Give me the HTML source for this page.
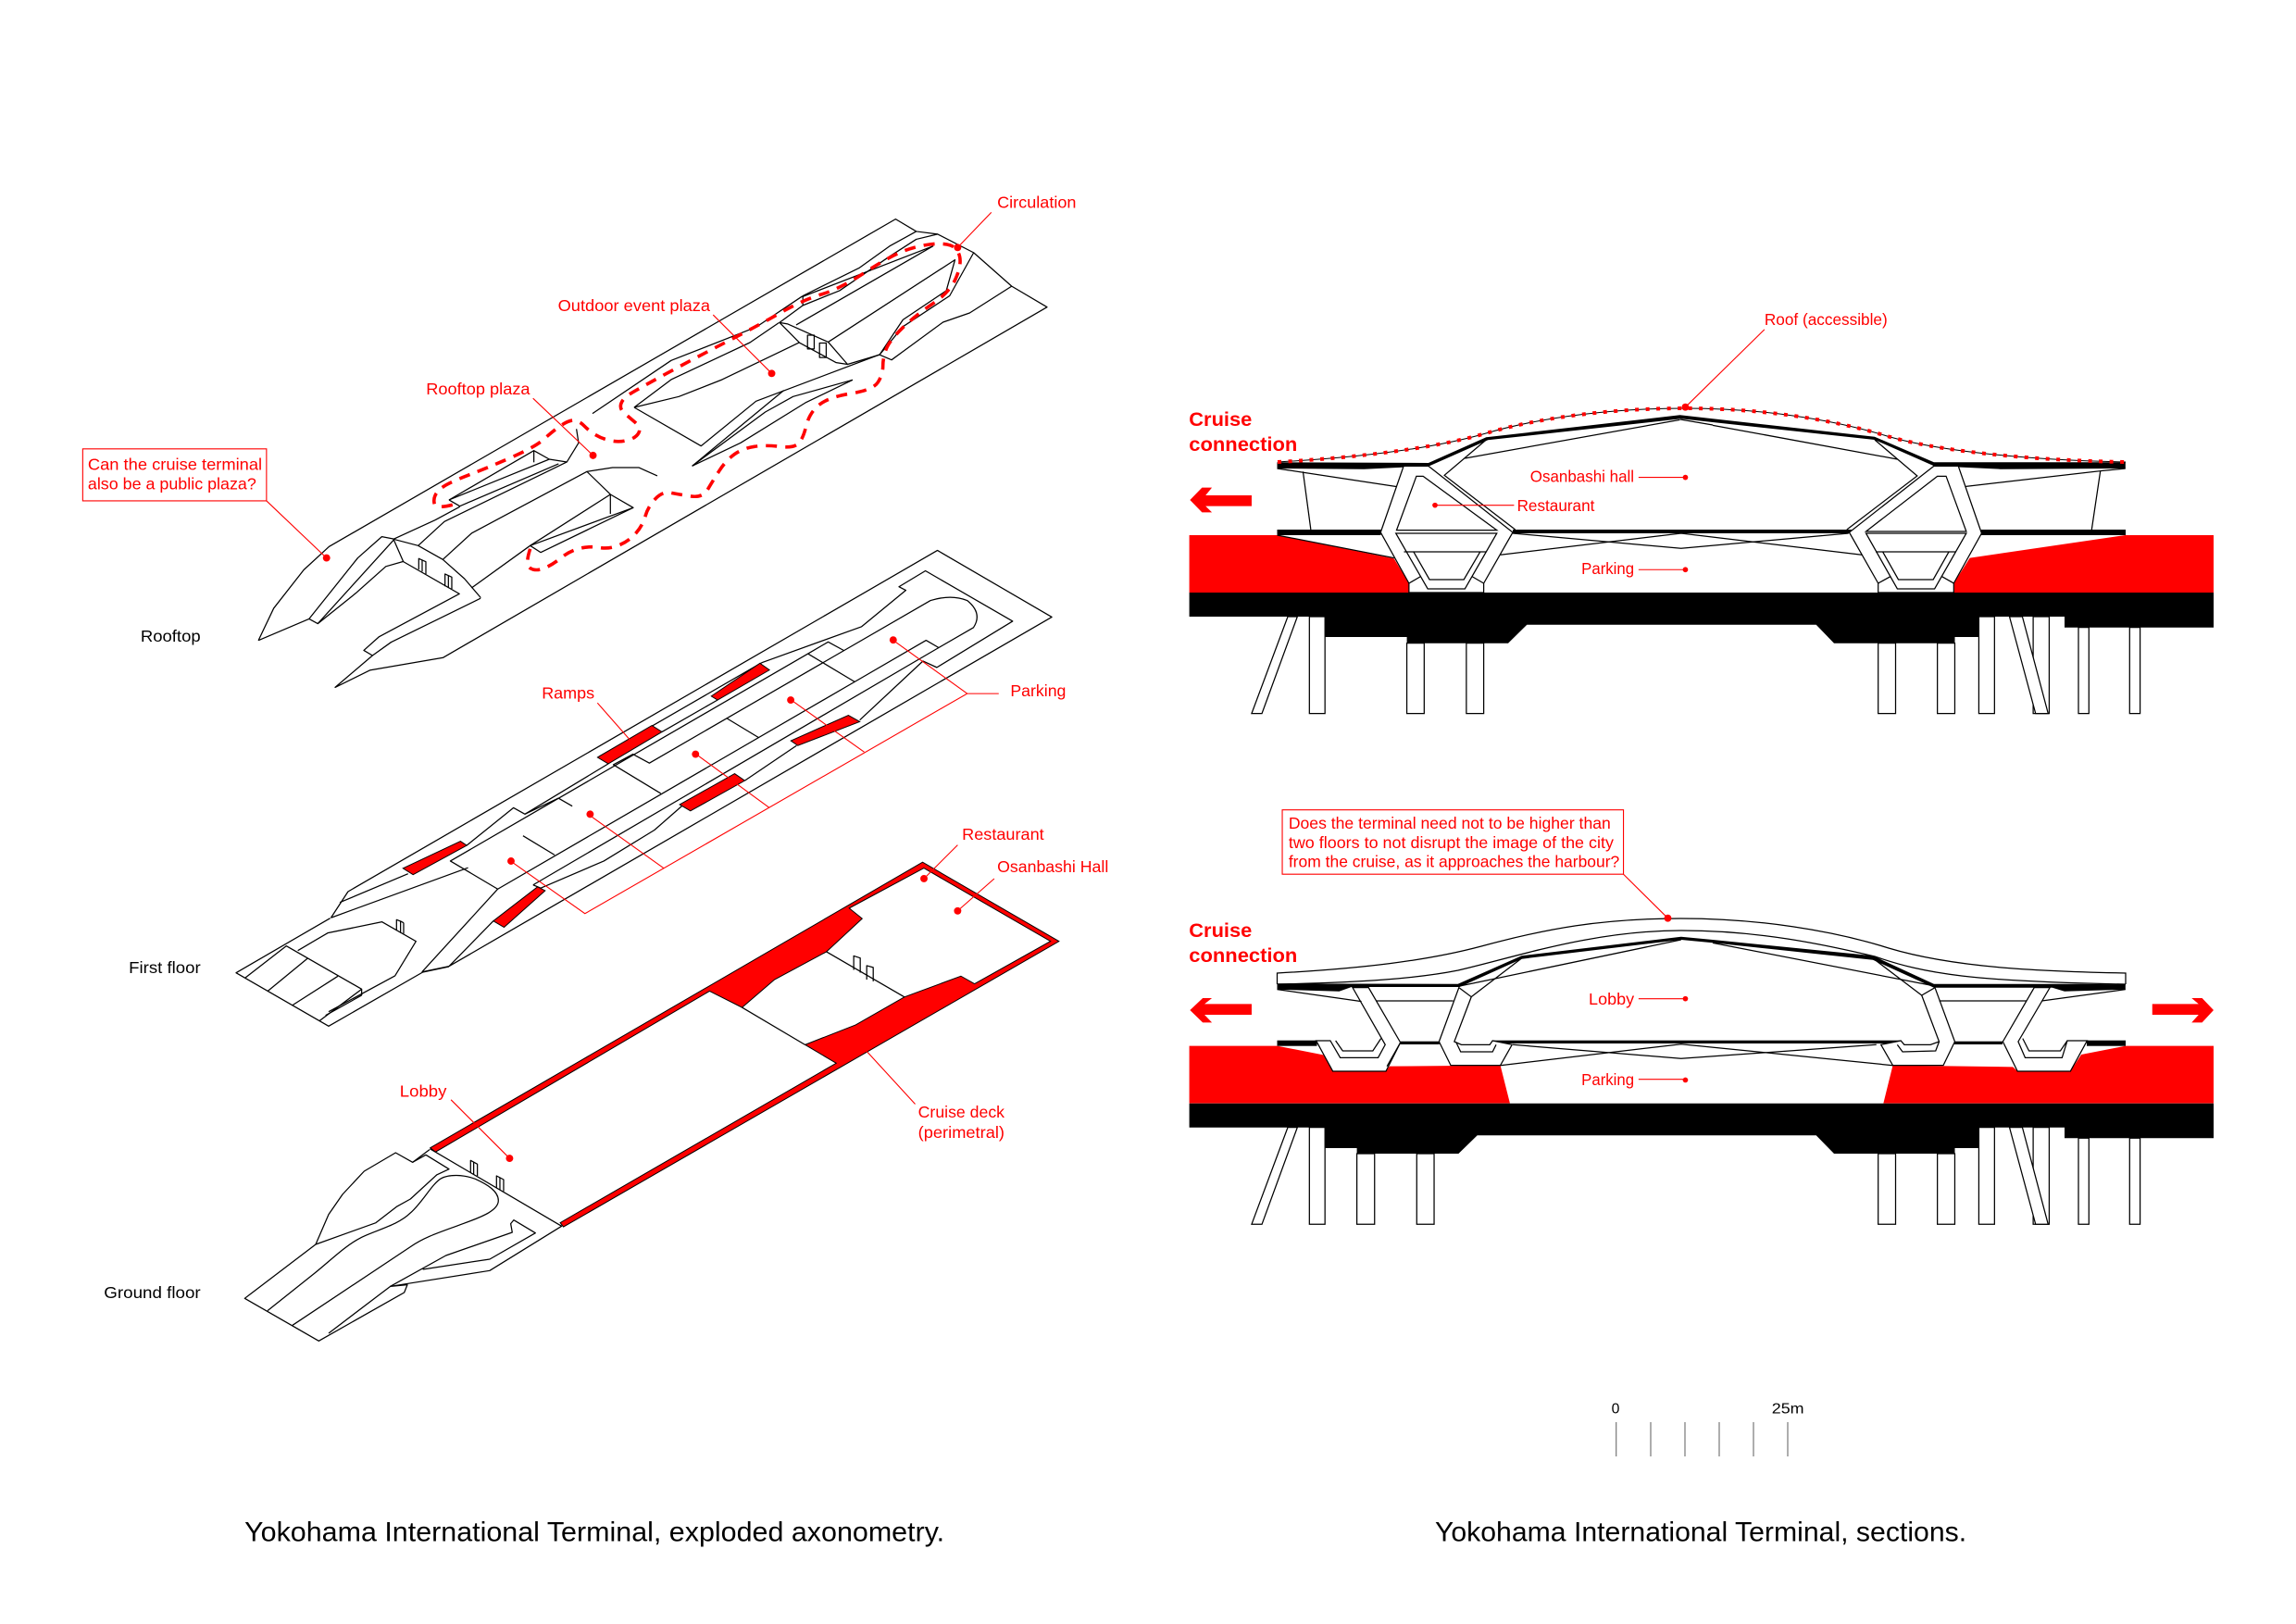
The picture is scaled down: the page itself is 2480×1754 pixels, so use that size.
<!DOCTYPE html>
<html><head><meta charset="utf-8"><title>Yokohama International Terminal</title>
<style>
html,body{margin:0;padding:0;background:#fff}
svg{display:block}
svg *{vector-effect:non-scaling-stroke}
.l path,.l polyline,.l polygon,.l rect{fill:none;stroke:#000;stroke-width:1.25;stroke-linejoin:round}
.s path,.s polygon,.s rect{fill:#fff;stroke:#000;stroke-width:1.25;stroke-linejoin:miter}
.s polyline{fill:none;stroke:#000;stroke-width:1.25}
.rf polygon,.rf path{fill:#f00;stroke:#000;stroke-width:1}
.r polygon{fill:#f00;stroke:none}
.k polygon,.k rect{fill:#000;stroke:none}
.ld path,.ld polyline{fill:none;stroke:#f00;stroke-width:1.1}
.d circle{fill:#f00}
text{font-family:"Liberation Sans",sans-serif;font-size:11.2px;fill:#f00}
text.b{fill:#000}
text.c{fill:#000;font-size:19px}
text.h{font-weight:bold;font-size:13.6px}
</style></head><body>
<svg xmlns="http://www.w3.org/2000/svg" width="2480" height="1754" viewBox="0 0 2480 1754">
<rect width="2480" height="1754" fill="#fff"/>

<!-- ROOFTOP -->
<g class="l" transform="translate(60,190) scale(.7207,.37)">
<polyline points="304,1356 327,1262 372,1150 410,1082 1259,126 1290,162 1322,170 1376,224 1433,322 1486,383 581,1406 471,1443 419,1493 475,1400 503,1361 637,1233"/>
<polyline points="304,1356 380,1293 393,1307 508,1060 489,1053 453,1115 380,1293"/>
<polyline points="393,1307 450,1218 495,1140 522,1125"/>
<polyline points="605,1220 485,1345 462,1385 475,1400"/>
<polyline points="1120,350 1205,268 1250,205 1290,162"/>
<polyline points="1120,350 1120,378"/>
<polyline points="1085,428 1120,378 1175,335 1250,235 1290,185 1322,170"/>
<polyline points="1085,428 1115,487 1170,545 1187,550 1158,485 1097,432 1085,428"/>
<polyline points="1120,352 1315,205 1110,435"/>
<polyline points="1158,485 1348,245 1335,335 1270,420 1235,522 1187,550"/>
<polyline points="1376,224 1340,350 1270,440 1235,522 1253,537 1330,427 1370,400 1433,322"/>
<rect x="1127" y="465" width="10" height="40"/><rect x="1145" y="488" width="10" height="42"/>
</g>
<g class="l" transform="translate(380,340) scale(.3333)">
<polyline points="135,727 270,665 350,622"/>
<polyline points="215,748 300,670 697,477 735,415 728,370"/>
<polyline points="315,600 590,440 640,468 697,477"/>
<polyline points="315,600 350,620 670,483"/>
<polyline points="315,600 640,468"/>
<polyline points="590,440 590,478"/>
<polyline points="295,793 388,708 762,508 838,582 912,625 612,770 578,748 838,582"/>
<polyline points="578,748 912,625"/>
<polyline points="838,582 838,645"/>
<polyline points="578,748 388,885"/>
<polyline points="762,508 845,495 930,495 990,522"/>
<polyline points="915,300 1060,265 1200,210 1450,90"/>
<polyline points="915,300 1035,210 1290,90 1385,25"/>
<polyline points="915,300 1132,425 1310,280 1710,129"/>
<polyline points="780,320 1035,148 1310,40 1461,-61"/>
<polyline points="1103,490 1400,245"/>
<polyline points="1103,490 1340,315 1430,265 1623,211"/>
<polyline points="1103,490 1260,415 1470,285 1623,211"/>
<polyline points="135,727 167,800 350,905"/>
<polyline points="135,727 215,748 295,793 365,855 418,917"/>
<polyline points="217,825 217,790 240,800 240,840"/><polyline points="228,795 228,832"/>
<polyline points="302,880 302,840 324,850 324,888"/><polyline points="313,845 313,885"/>
</g>
<g transform="translate(60,190) scale(.7207,.37)">
<path d="M595,960 Q570,972 568,958.5 Q566,945 569,932.5 Q572,920 581,907.5 Q590,895 620,872.5 Q650,850 685,820 Q720,790 732.5,767.5 Q745,745 757.5,728.5 Q770,712 777.5,713.5 Q785,715 792.5,730 Q800,745 810,756.5 Q820,768 832.5,773 Q845,778 857.5,771.5 Q870,765 874,750 Q878,735 869,720 Q860,705 852.5,692.5 Q845,680 847.5,665 Q850,650 860,637.5 Q870,625 915,577.5 Q960,530 1005,485 Q1050,440 1085,401 Q1120,362 1147.5,346 Q1175,330 1212.5,282.5 Q1250,235 1270,220 Q1290,205 1310,200 Q1330,195 1341,202.5 Q1352,210 1355,235 Q1358,260 1349,300 Q1340,340 1315,372.5 Q1290,405 1270,442.5 Q1250,480 1245,505 Q1240,530 1240,555 Q1240,580 1232.5,602.5 Q1225,625 1192.5,635 Q1160,645 1145,667.5 Q1130,690 1125,730 Q1120,770 1112.5,782.5 Q1105,795 1085,790 Q1065,785 1047.5,790 Q1030,795 1017.5,812.5 Q1005,830 995,860 Q985,890 977.5,915 Q970,940 952.5,935 Q935,930 922.5,925 Q910,920 899,942.5 Q888,965 884,992.5 Q880,1020 870,1042.5 Q860,1065 845,1077.5 Q830,1090 815,1085 Q800,1080 785,1087.5 Q770,1095 757.5,1115 Q745,1135 732.5,1145 Q720,1155 711.5,1145 Q703,1135 712,1085" fill="none" stroke="#f00" stroke-width="3.6" stroke-dasharray="12 9"/>
</g>

<!-- FIRST FLOOR -->
<g class="l" transform="translate(120,590) scale(.6824,.3444)">
<polyline points="348,1165 375,1083 1308,13 1489,222 535,1317 492,1335"/>
<polyline points="362,1117 470,1027"/>
<polyline points="348,1165 565,1008"/>
<polyline points="563,938 637,820 655,840 708,790 730,815"/>
<polyline points="655,840 787,682"/>
<polyline points="1030,365 1188,252 1258,138 1247,127 1289,77 1427,235 1307,380 1285,360 1185,545"/>
<polyline points="1030,365 772,660"/>
<polyline points="960,482 872,582"/>
<polyline points="1103,337 537,987 612,1075 1177,425 1103,337 1135,300 1160,327 852,680 826,652 795,685 870,775"/>
<polyline points="652,908 702,968"/><polyline points="975,540 1025,600"/>
<path d="M1160,327 L1297,170 Q1330,150 1355,170 Q1380,210 1365,255 L1310,318 L1290,295 L1177,425"/>
<polyline points="668,1062 1310,318"/>
<polyline points="668,1062 680,1072 780,987 860,890 905,812"/>
<polyline points="1003,735 1085,625"/>
<polyline points="612,1075 492,1335"/>
<polyline points="605,1175 535,1317"/>
</g>
<g class="l" transform="translate(240,900) scale(.3333)">
<polyline points="350,275 45,452 345,625 650,450 735,432"/>
<polyline points="75,468 208,365 452,505 452,525"/>
<polyline points="147,512 277,405"/><polyline points="228,557 375,463"/><polyline points="315,608 452,505"/>
<polyline points="335,590 452,525"/>
<polyline points="345,578 560,462 628,350 518,287 342,323 245,380"/>
<polyline points="565,315 565,280 578,285 578,323"/><polyline points="588,290 588,325"/><polyline points="578,285 588,290"/>
</g>
<g class="rf" transform="translate(120,590) scale(.6824,.3444)">
<polygon points="950,470 1027,367 1042,388 960,482"/>
<polygon points="770,662 856,562 872,582 787,682"/>
<polygon points="1076,610 1167,530 1185,550 1087,625"/>
<polygon points="900,810 987,713 1003,735 917,830"/>
<polygon points="462,1010 553,925 563,938 478,1030"/>
<polygon points="605,1175 675,1068 687,1080 622,1195"/>
</g>

<!-- GROUND FLOOR -->
<g class="rf" transform="translate(100,900) scale(.7015,.3762)">
<polygon points="520,903 1278,83 1488,310 725,1130 720,1118 1145,660 1097,607 1175,550 1250,470 1337,410 1358,432 1475,310 1280,100 1165,215 1185,245 1130,340 1050,420 1000,500 950,453 528,915"/>
</g>
<g class="l" transform="translate(100,900) scale(.7015,.3762)">
<polyline points="1000,500 1097,607"/>
<polyline points="1130,340 1250,470"/>
<polyline points="1172,392 1172,352 1182,358 1182,400"/>
<polyline points="1192,420 1192,380 1202,385 1202,425"/>
</g>
<g class="l" transform="translate(240,1220) scale(.3333)">
<polyline points="673,62 1100,313 867,457 545,508 600,503 590,528 313,685 73,547 303,372 345,275 390,210 460,135 562,75 617,106 672,65"/>
<polyline points="617,106 660,82 735,128 695,147 610,225 565,250 498,302 303,372"/>
<path d="M147,587 L300,465 C350,425 400,375 450,350 C500,325 570,310 610,270 C650,235 680,175 710,158 C735,145 780,145 820,160 C860,178 895,200 895,230 C895,260 850,280 780,305 C720,328 660,345 610,380 L228,634"/>
<polyline points="345,660 545,508 725,408 940,333 935,305 945,293 1015,335 867,420 650,453"/>
<polyline points="805,138 805,100 827,112 827,150"/><polyline points="815,105 815,145"/>
<polyline points="889,188 889,150 912,162 912,200"/><polyline points="900,155 900,195"/>
</g>

<!-- SECTION 1 -->
<g class="r" transform="translate(1280,420) scale(.3827,.3333)"><polygon points="12,474 260,474 590,550 632,630 632,660 12,660"/></g>
<g class="r" transform="translate(1850,420) scale(.3762,.3333)"><polygon points="738,548 1185,474 1438,474 1438,660 692,660 692,630"/></g>
<g class="k">
<polygon points="1284.6,640 2391,640 2391,677.7 2230,677.7 2230,666 2137.4,666 2137.4,688 2111.5,688 2111.5,694.7 1981,694.7 1961.7,674.7 1649.3,674.7 1629,694.7 1519.6,694.7 1519.6,688 1431,688 1431,666 1284.6,666"/>
<polygon points="1379.5,499.3 1542.9,500 1605.3,472.3 1814.6,448.3 1850,452.3 2024.9,471.7 2088.9,499.3 2295.8,499.3 2295.8,506 2160.4,506.7 2088.9,503.3 2024.9,475 1850,456 1815.8,452.3 1607.2,475.3 1544,503.3 1473.3,506.7 1379.5,506"/>
<rect x="1379.5" y="572" width="112" height="6"/>
<rect x="1634" y="572" width="366" height="4"/>
<rect x="2140" y="572" width="156" height="6"/>
</g>
<g fill="none" stroke="#000" stroke-width="1.25">
<path d="M1815 453 L1850 459"/>
<path d="M1620.6,599.3 L1815.8,576 L2011,599.3"/>
<path d="M1634,576 L1815.8,592.3 L1996.7,576"/>
</g>
<g class="s" transform="translate(1280,420) scale(.3827,.3333)">
<polygon points="617,250 687,250 925,465 843,630 843,660 632,660 632,630 552,465"/>
<polygon points="653,283 672,283 880,458 597,458"/>
<polygon points="595,468 880,468 790,648 685,648"/>
<polyline points="618,528 850,528"/>
<polyline points="645,528 690,618 787,618 833,528"/>
<polyline points="632,630 665,608"/><polyline points="843,630 810,608"/>
<polyline points="932,456 732,280 850,165"/>
<polyline points="790,225 1397,100"/>
<polyline points="260,258 598,317"/>
<polyline points="333,268 355,456"/>
<polyline points="260,474 590,548"/>
<polygon points="188,1052 290,738 317,738 217,1052"/>
<rect x="351" y="738" width="44" height="314"/>
<rect x="626" y="824" width="49" height="228"/>
<rect x="794" y="824" width="49" height="228"/>
</g>
<g class="s" transform="translate(1850,420) scale(.3762,.3333)">
<polygon points="635,250 705,250 772,468 692,630 692,660 475,660 475,630 392,465"/>
<polygon points="645,283 670,283 728,462 440,462"/>
<polygon points="440,468 728,468 637,648 530,648"/>
<polyline points="468,528 698,528"/>
<polyline points="488,528 533,618 633,618 678,528"/>
<polyline points="475,630 510,608"/><polyline points="692,630 658,608"/>
<polyline points="385,456 587,282 465,165"/>
<polyline points="530,228 0,118"/>
<polyline points="727,316 1113,266 1088,456"/>
<polyline points="1113,266 1185,258"/>
<rect x="475" y="824" width="50" height="228"/>
<rect x="645" y="824" width="50" height="228"/>
<rect x="764" y="738" width="45" height="314"/>
<rect x="920" y="738" width="46" height="314"/>
<polygon points="852,738 927,1052 963,1052 889,738"/>
<rect x="1050" y="773" width="30" height="279"/>
<rect x="1197" y="773" width="30" height="279"/>
</g>
<path d="M1380 499 C1470 494 1550 484 1605 468 C1670 449 1750 441 1820 441 C1900 441 1975 452 2035 470 C2090 487 2190 497 2296 499" fill="none" stroke="#000" stroke-width="1"/>
<path d="M1380 499 C1470 494 1550 484 1605 468 C1670 449 1750 441 1820 441 C1900 441 1975 452 2035 470 C2090 487 2190 497 2296 499" fill="none" stroke="#f00" stroke-width="4" stroke-dasharray="4 7.5"/>
<g class="r" transform="translate(1280,420) scale(.3827,.3333)"><polygon points="14,360 48,320 76,320 58,345 188,345 188,380 58,380 76,400 48,400"/></g>

<!-- SECTION 2 -->
<g class="r" transform="translate(1280,980) scale(.3827,.3333)"><polygon points="12,449 260,449 390,478 417,531 567,531 577,515 890,512 917,635 12,635"/></g>
<g class="r" transform="translate(1850,980) scale(.3762,.3333)">
<polygon points="517,512 862,517 875,531 1027,531 1058,477 1185,449 1438,449 1438,635 490,635"/>
<polygon points="1262,313 1395,313 1375,294 1405,294 1438,333 1405,373 1375,373 1395,348 1262,348"/>
</g>
<g class="r" transform="translate(1280,980) scale(.3827,.3333)"><polygon points="14,333 50,294 76,294 55,313 188,313 188,348 55,348 76,373 50,373"/></g>
<g class="k">
<polygon points="1284.6,1191.7 2391,1191.7 2391,1229.3 2230,1229.3 2230,1217.7 2137.4,1217.7 2137.4,1240 2111.5,1240 2111.5,1246 1981,1246 1961.7,1226.3 1595.7,1226.3 1575.4,1246 1465.6,1246 1465.6,1240 1431,1240 1431,1217.7 1284.6,1217.7"/>
<polygon points="1379.5,1062.3 1574.7,1062.7 1643.6,1032.3 1815.8,1011.7 1850,1015 2023,1032.3 2088.9,1062.7 2245,1062.7 2295.8,1063.3 2295.8,1068.7 2230,1070.7 2216.8,1066.7 2088.9,1066.7 2023,1036.7 1850,1018.3 1815.8,1015 1643.6,1035.7 1576.6,1066 1459.9,1066 1446.5,1070.7 1379.5,1068.7"/>
<rect x="1379.5" y="1123.7" width="43" height="6"/>
<rect x="1512.7" y="1124.7" width="42" height="3.3"/>
<rect x="1612" y="1123.7" width="441" height="3.3"/>
<rect x="2111" y="1124.7" width="52" height="3.3"/>
<rect x="2254" y="1123.7" width="42" height="6"/>
</g>
<path d="M1379.5 1063 V1051 C1470 1046 1540 1038 1600 1022 C1670 1003 1730 992 1815 992 C1900 992 1980 1005 2040 1024 C2110 1045 2200 1049 2296 1051 V1063" fill="none" stroke="#000" stroke-width="1.25"/>
<path d="M1379.5 1063 C1470 1061 1530 1057 1575 1048 C1640 1033 1720 1005 1816 1005 C1900 1005 1970 1020 2025 1033 C2080 1052 2130 1060 2296 1063" fill="none" stroke="#000" stroke-width="1.25"/>
<g fill="none" stroke="#000" stroke-width="1.25">
<path d="M1620.6,1150.7 L1815.8,1127.7 L2044.5,1150.7"/>
<path d="M1634,1128.3 L1815.8,1143.3 L2026.8,1128.3"/>
</g>
<g class="s" transform="translate(1280,980) scale(.3827,.3333)">
<polygon points="473,260 518,260 608,438 567,531 417,531 370,432 410,432 438,487 545,487 565,445"/>
<polyline points="425,432 445,465 530,465 553,425"/>
<polyline points="540,303 757,303"/>
<polyline points="498,305 260,266"/>
<polyline points="608,438 570,515"/>
<polygon points="773,260 808,290 760,435 780,445 860,445 868,432 923,445 890,512 750,512 717,435"/>
<polyline points="765,437 778,468 868,468 878,445"/>
<polyline points="808,290 950,165"/>
<polyline points="775,255 1400,105"/>
<polygon points="188,1027 290,713 317,713 217,1027"/>
<rect x="351" y="713" width="44" height="314"/>
<rect x="485" y="798" width="50" height="229"/>
<rect x="654" y="798" width="49" height="229"/>
</g>
<g class="s" transform="translate(1850,980) scale(.3762,.3333)">
<polygon points="638,260 695,435 662,512 517,512 483,445 540,432 550,445 625,445 650,435 600,285"/>
<polyline points="530,445 545,468 640,465 650,435"/>
<polyline points="600,285 460,165"/>
<polyline points="638,255 0,115"/>
<polygon points="923,260 968,260 877,435 897,487 1003,487 1018,432 1075,432 1027,531 875,531 833,435"/>
<polyline points="890,425 908,465 998,465 1018,432"/>
<polyline points="650,303 900,303"/>
<polyline points="945,303 1185,266"/>
<rect x="475" y="798" width="50" height="229"/>
<rect x="645" y="798" width="50" height="229"/>
<rect x="764" y="713" width="45" height="314"/>
<rect x="920" y="713" width="46" height="314"/>
<polygon points="852,713 927,1027 963,1027 889,713"/>
<rect x="1050" y="748" width="30" height="279"/>
<rect x="1197" y="748" width="30" height="279"/>
</g>

<!-- Parking bracket -->
<g class="ld" transform="translate(120,590) scale(.6824,.3444)">
<polyline points="1405,462 1355,462 750,1152 633,988"/>
<polyline points="1238,295 1355,462"/>
<polyline points="1075,480 1192,645"/>
<polyline points="926,652 1042,820"/>
<polyline points="757,843 875,1010"/>
</g>

<!-- Labels & leaders in 1568-wide coordinates -->
<g transform="scale(1.58163)">
<g class="ld">
<path d="M677,145 L654,169"/><path d="M487,215 L527,255"/><path d="M364,272 L405,311"/>
<path d="M182,342 L223,381"/><path d="M408,480 L430,505"/>
<path d="M654,577 L631,600"/><path d="M679,600 L654,622"/>
<path d="M625,754 L592,718"/><path d="M308,751 L348,791"/>
<path d="M1205,225 L1151,278"/><path d="M1119,326 H1151"/><path d="M980,345 H1034"/><path d="M1119,389 H1151"/>
<path d="M1119,682 H1151"/><path d="M1119,737 H1151"/><path d="M1108.7,597 L1139,627"/>
</g>
<g class="d">
<circle cx="654" cy="169" r="2.5"/><circle cx="527" cy="255" r="2.5"/><circle cx="405" cy="311" r="2.5"/>
<circle cx="223" cy="381" r="2.5"/><circle cx="631" cy="600" r="2.5"/><circle cx="654" cy="622" r="2.5"/>
<circle cx="348" cy="791" r="2.5"/><circle cx="610" cy="437" r="2.5"/><circle cx="540" cy="478" r="2.5"/>
<circle cx="475" cy="515" r="2.5"/><circle cx="403" cy="556" r="2.5"/><circle cx="349" cy="588" r="2.5"/>
<circle cx="1151" cy="278" r="2.5"/><circle cx="1151" cy="326" r="1.8"/><circle cx="980" cy="345" r="1.8"/>
<circle cx="1151" cy="389" r="1.8"/><circle cx="1151" cy="682" r="1.8"/><circle cx="1151" cy="737.5" r="1.8"/>
<circle cx="1139" cy="627" r="2.5"/>
</g>
<rect x="56.5" y="306.5" width="125.5" height="35.5" fill="#fff" stroke="#f00" stroke-width="1.1"/>
<rect x="875.7" y="553" width="233" height="44" fill="#fff" stroke="#f00" stroke-width="1.1"/>
<text x="681" y="142" textLength="54" lengthAdjust="spacingAndGlyphs">Circulation</text>
<text x="381" y="212.5" textLength="104" lengthAdjust="spacingAndGlyphs">Outdoor event plaza</text>
<text x="291" y="269.5" textLength="71" lengthAdjust="spacingAndGlyphs">Rooftop plaza</text>
<text x="60" y="321" textLength="119" lengthAdjust="spacingAndGlyphs">Can the cruise terminal</text>
<text x="60" y="334" textLength="115" lengthAdjust="spacingAndGlyphs">also be a public plaza?</text>
<text class="b" x="96" y="438" textLength="41" lengthAdjust="spacingAndGlyphs">Rooftop</text>
<text class="b" x="88" y="664.5" textLength="49" lengthAdjust="spacingAndGlyphs">First floor</text>
<text class="b" x="71" y="886.5" textLength="66" lengthAdjust="spacingAndGlyphs">Ground floor</text>
<text x="370" y="477" textLength="36" lengthAdjust="spacingAndGlyphs">Ramps</text>
<text x="690" y="475.5" textLength="38" lengthAdjust="spacingAndGlyphs">Parking</text>
<text x="657" y="573.5" textLength="56" lengthAdjust="spacingAndGlyphs">Restaurant</text>
<text x="681" y="595.5" textLength="76" lengthAdjust="spacingAndGlyphs">Osanbashi Hall</text>
<text x="627" y="763" textLength="59" lengthAdjust="spacingAndGlyphs">Cruise deck</text>
<text x="627" y="777" textLength="59" lengthAdjust="spacingAndGlyphs">(perimetral)</text>
<text x="273" y="749" textLength="32" lengthAdjust="spacingAndGlyphs">Lobby</text>
<text x="1205" y="222" textLength="84" lengthAdjust="spacingAndGlyphs">Roof (accessible)</text>
<text class="h" x="812" y="290.7" textLength="43" lengthAdjust="spacingAndGlyphs">Cruise</text>
<text class="h" x="812" y="308" textLength="74" lengthAdjust="spacingAndGlyphs">connection</text>
<text x="1045" y="329" textLength="71" lengthAdjust="spacingAndGlyphs">Osanbashi hall</text>
<text x="1036" y="349" textLength="53" lengthAdjust="spacingAndGlyphs">Restaurant</text>
<text x="1080" y="392" textLength="36" lengthAdjust="spacingAndGlyphs">Parking</text>
<text x="880" y="566" textLength="220" lengthAdjust="spacingAndGlyphs">Does the terminal need not to be higher than</text>
<text x="880" y="579" textLength="222" lengthAdjust="spacingAndGlyphs">two floors to not disrupt the image of the city</text>
<text x="880" y="592" textLength="226" lengthAdjust="spacingAndGlyphs">from the cruise, as it approaches the harbour?</text>
<text class="h" x="812" y="640" textLength="43" lengthAdjust="spacingAndGlyphs">Cruise</text>
<text class="h" x="812" y="657" textLength="74" lengthAdjust="spacingAndGlyphs">connection</text>
<text x="1085" y="686" textLength="31" lengthAdjust="spacingAndGlyphs">Lobby</text>
<text x="1080" y="741" textLength="36" lengthAdjust="spacingAndGlyphs">Parking</text>
<text class="b" x="1100.5" y="965" style="font-size:10px">0</text>
<text class="b" x="1210" y="965" style="font-size:10px" textLength="22" lengthAdjust="spacingAndGlyphs">25m</text>
<text class="c" x="167" y="1052.5" textLength="478" lengthAdjust="spacingAndGlyphs">Yokohama International Terminal, exploded axonometry.</text>
<text class="c" x="980" y="1052.5" textLength="363" lengthAdjust="spacingAndGlyphs">Yokohama International Terminal, sections.</text>
</g>
<g stroke="#777" stroke-width="1.2">
<path d="M1745.7 1536V1573M1783 1536V1573M1820 1536V1573M1857 1536V1573M1894 1536V1573M1931 1536V1573"/>
</g>
</svg>
</body></html>
